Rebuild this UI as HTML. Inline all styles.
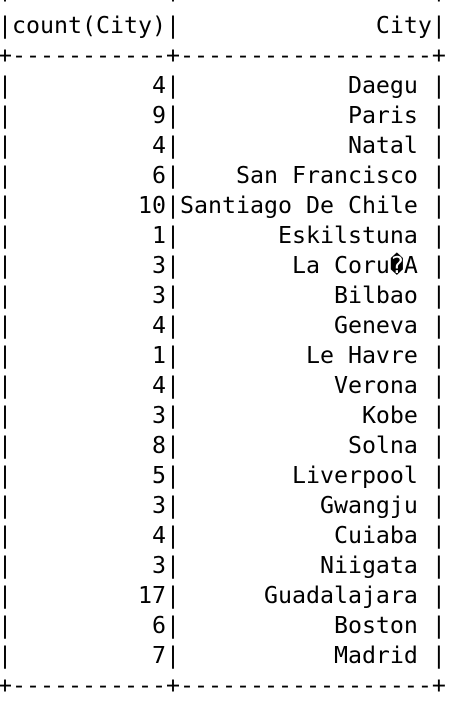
<!DOCTYPE html>
<html><head><meta charset="utf-8"><style>
html,body{margin:0;padding:0;background:#fff;width:474px;height:696px;overflow:hidden;}
#tbl{position:absolute;left:-2px;top:-19px;margin:0;font-family:"DejaVu Sans Mono","Liberation Mono",monospace;font-size:23.25px;line-height:30px;color:#000;white-space:pre;}
.l{display:block;height:30px;}
</style></head><body>
<pre id="tbl"></pre>
<script>
const counts=[4,9,4,6,10,1,3,3,4,1,4,3,8,5,3,4,3,17,6,7];
const cities=["Daegu","Paris","Natal","San Francisco","Santiago De Chile","Eskilstuna","La Coru\uFFFDA","Bilbao","Geneva","Le Havre","Verona","Kobe","Solna","Liverpool","Gwangju","Cuiaba","Niigata","Guadalajara","Boston","Madrid"];
const W1=11,W2=18;
const pad=(s,w)=>" ".repeat(Math.max(0,w-String(s).length))+s;
const border="+"+"-".repeat(W1)+"+"+"-".repeat(W2)+"+";
const tbl=document.getElementById('tbl');
function add(text,name){
  const s=document.createElement('span');
  s.className='l';
  s.textContent=text;
  
  
  tbl.appendChild(s);
}
add(border,'top-border');
add("|"+pad("count(City)",W1)+"|"+pad("City",W2)+"|",'header-row');
add(border,'header-separator');
for(let i=0;i<counts.length;i++){
  add("|"+pad(counts[i],W1)+"|"+pad(cities[i]+" ",W2)+"|",'row-'+(i+1));
}
add(border,'bottom-border');
</script>
</body></html>
